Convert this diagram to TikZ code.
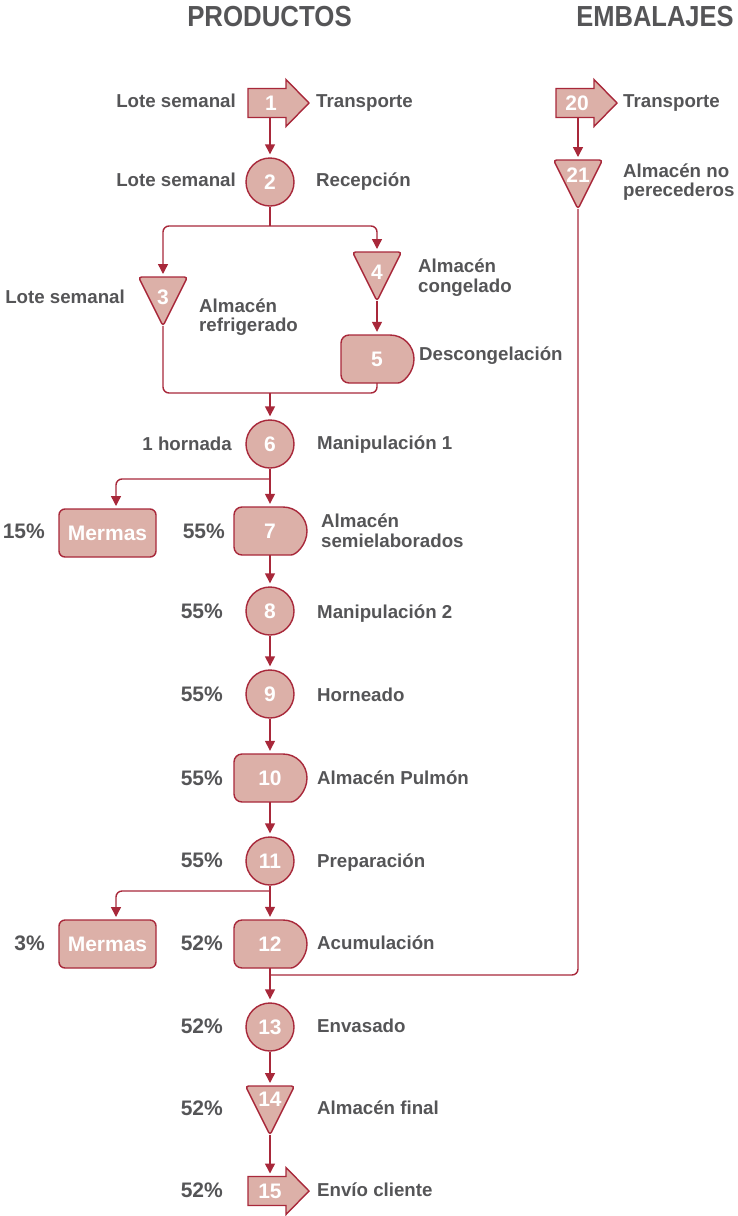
\documentclass[tikz,border=0pt]{standalone}
\usepackage{fontspec}
\setmainfont{Liberation Sans}
\usetikzlibrary{arrows.meta}
\definecolor{fillc}{HTML}{DCB0A8}
\definecolor{linec}{HTML}{A8283A}
\definecolor{textc}{HTML}{555557}
\newcommand\DShp[2]{\draw[shapebox, rounded corners=8pt] (#1+13,#2-24) -- (#1-36,#2-24) -- (#1-36,#2+24) -- (#1+13,#2+24) [sharp corners] arc[start angle=90,end angle=-90,radius=24] -- cycle;}
\newcommand\TriShp[2]{\draw[shapebox, rounded corners=3pt] (#1-24.5,#2) -- (#1+24.5,#2) -- (#1,#2+49) -- cycle;}
\newcommand\ArrShp[2]{\draw[shapebox, line join=miter] (#1,#2-14.5) -- (#1+38,#2-14.5) -- (#1+38,#2-23.5) -- (#1+61,#2) -- (#1+38,#2+23.5) -- (#1+38,#2+14.5) -- (#1,#2+14.5) -- cycle;}
\begin{document}
\begin{tikzpicture}[x=1pt,y=-1pt,
  conn/.style={draw=linec, line width=1.4pt, rounded corners=6pt},
  arr/.style={conn, -{Triangle[width=10pt,length=10pt]}, shorten >=3pt},
  shapebox/.style={draw=linec, fill=fillc, line width=1.4pt},
  num/.style={text=white, font=\fontsize{21}{21}\selectfont\bfseries, inner sep=0pt},
  circ/.style={circle, shapebox, minimum size=48pt, inner sep=0pt, text=white, font=\fontsize{21}{21}\selectfont\bfseries},
  dnode/.style={rectangle, minimum width=72pt, minimum height=48pt, inner sep=0pt, text=white, font=\fontsize{21}{21}\selectfont\bfseries},
  merm/.style={rectangle, rounded corners=6pt, shapebox, minimum width=97pt, minimum height=48pt, inner sep=0pt, text=white, font=\fontsize{21}{21}\selectfont\bfseries},
  lab/.style={text=textc, font=\fontsize{18.7}{20}\selectfont\bfseries, inner sep=0pt, anchor=base west},
  labl/.style={lab, anchor=base east},
  pct/.style={text=textc, font=\fontsize{21}{21}\selectfont\bfseries, inner sep=0pt, anchor=base east},
  title/.style={text=textc, font=\fontsize{29}{29}\selectfont\bfseries, inner sep=0pt}
]
\useasboundingbox (0,0) rectangle (737,1216);

% titles
\node[title] (tprod) at (269.5,16.5) {\scalebox{0.89}[1]{PRODUCTOS}};
\node[title] (temb) at (655,16.5) {\scalebox{0.88}[1]{EMBALAJES}};

% shapes
\ArrShp{248}{103}
\node[num] (n1) at (271,103) {1};
\coordinate (n1b) at (270,117.5);

\node[circ] (n2) at (270,182) {2};

\TriShp{163}{277}
\node[num] (n3) at (163,297.5) {3};
\coordinate (n3t) at (163,277);
\coordinate (n3b) at (163,326);

\TriShp{377}{252}
\node[num] (n4) at (377,272) {4};
\coordinate (n4t) at (377,252);
\coordinate (n4b) at (377,301);

\DShp{377}{359}
\node[dnode] (n5) at (377,359) {5};

\node[circ] (n6) at (270,444) {6};

\node[merm] (mer1) at (107.5,533) {Mermas};
\coordinate (mt1) at (116,509);

\DShp{270}{531}
\node[dnode] (n7) at (270,531) {7};

\node[circ] (n8) at (270,611) {8};
\node[circ] (n9) at (270,694) {9};

\DShp{270}{778}
\node[dnode] (n10) at (270,778) {10};

\node[circ] (n11) at (270,861) {11};

\node[merm] (mer2) at (107.5,944) {Mermas};
\coordinate (mt2) at (116,920);

\DShp{270}{944}
\node[dnode] (n12) at (270,944) {12};

\node[circ] (n13) at (270,1027) {13};

\TriShp{270}{1086}
\node[num] (n14) at (270,1099.5) {14};
\coordinate (n14t) at (270,1086);
\coordinate (n14b) at (270,1135);

\ArrShp{248}{1191}
\node[num] (n15) at (270,1191) {15};
\coordinate (n15t) at (270,1176.5);

\ArrShp{556}{103}
\node[num] (n20) at (577,103) {20};
\coordinate (n20b) at (578,117.5);

\TriShp{578}{160}
\node[num] (n21) at (578,175) {21};
\coordinate (n21t) at (578,160);
\coordinate (n21b) at (578,209);

% junction coordinates
\coordinate (s2) at (270,226);
\coordinate (m1) at (270,393);
\coordinate (s6) at (270,479);
\coordinate (s11) at (270,891);
\coordinate (j12) at (270,975);

% connectors
\draw[arr] (n1b) -- (n2);
\draw[conn] (n2.south) -- (s2);
\draw[arr] (s2) -| (n3t);
\draw[arr] (s2) -| (n4t);
\draw[arr] (n4b) -- (n5.north);
\draw[conn] (n3b) |- (m1) -| (n5.south);
\draw[arr] (m1) -- (n6);
\draw[conn] (n6.south) -- (s6);
\draw[arr] (s6) -| (mt1);
\draw[arr] (s6) -- (n7.north);
\draw[arr] (n7.south) -- (n8);
\draw[arr] (n8) -- (n9);
\draw[arr] (n9) -- (n10.north);
\draw[arr] (n10.south) -- (n11);
\draw[conn] (n11.south) -- (s11);
\draw[arr] (s11) -| (mt2);
\draw[arr] (s11) -- (n12.north);
\draw[conn] (n21b) |- (j12);
\draw[arr] (n12.south) -- (n13);
\draw[arr] (n13) -- (n14t);
\draw[arr] (n14b) -- (n15t);
\draw[arr] (n20b) -- (n21t);

% labels
\node[labl] (l1) at (236,107) {Lote semanal};
\node[lab] (r1) at (316,107) {Transporte};
\node[labl] (l2) at (236,186) {Lote semanal};
\node[lab] (r2) at (316,186) {Recepción};
\node[labl] (l3) at (125,303) {Lote semanal};
\node[lab] (r3a) at (199,312) {Almacén};
\node[lab] (r3b) at (199,331) {refrigerado};
\node[lab] (r4a) at (418,272) {Almacén};
\node[lab] (r4b) at (418,292) {congelado};
\node[lab] (r5) at (419,360) {Descongelación};
\node[labl] (l6) at (232,450) {1 hornada};
\node[lab] (r6) at (317,449) {Manipulación 1};
\node[pct] (pm1) at (45,538) {15\%};
\node[pct] (l7) at (225,538) {55\%};
\node[lab] (r7a) at (321,527) {Almacén};
\node[lab] (r7b) at (321,547) {semielaborados};
\node[pct] (l8) at (223,618) {55\%};
\node[lab] (r8) at (317,618) {Manipulación 2};
\node[pct] (l9) at (223,701) {55\%};
\node[lab] (r9) at (317,701) {Horneado};
\node[pct] (l10) at (223,785) {55\%};
\node[lab] (r10) at (317,784) {Almacén Pulmón};
\node[pct] (l11) at (223,867) {55\%};
\node[lab] (r11) at (317,867) {Preparación};
\node[pct] (pm2) at (45,950) {3\%};
\node[pct] (l12) at (223,950) {52\%};
\node[lab] (r12) at (317,949) {Acumulación};
\node[pct] (l13) at (223,1033) {52\%};
\node[lab] (r13) at (317,1032) {Envasado};
\node[pct] (l14) at (223,1115) {52\%};
\node[lab] (r14) at (317,1114) {Almacén final};
\node[pct] (l15) at (223,1197) {52\%};
\node[lab] (r15) at (317,1196) {Envío cliente};
\node[lab] (r20) at (623,107) {Transporte};
\node[lab] (r21a) at (623,177) {Almacén no};
\node[lab] (r21b) at (623,196) {perecederos};
\end{tikzpicture}
\end{document}
